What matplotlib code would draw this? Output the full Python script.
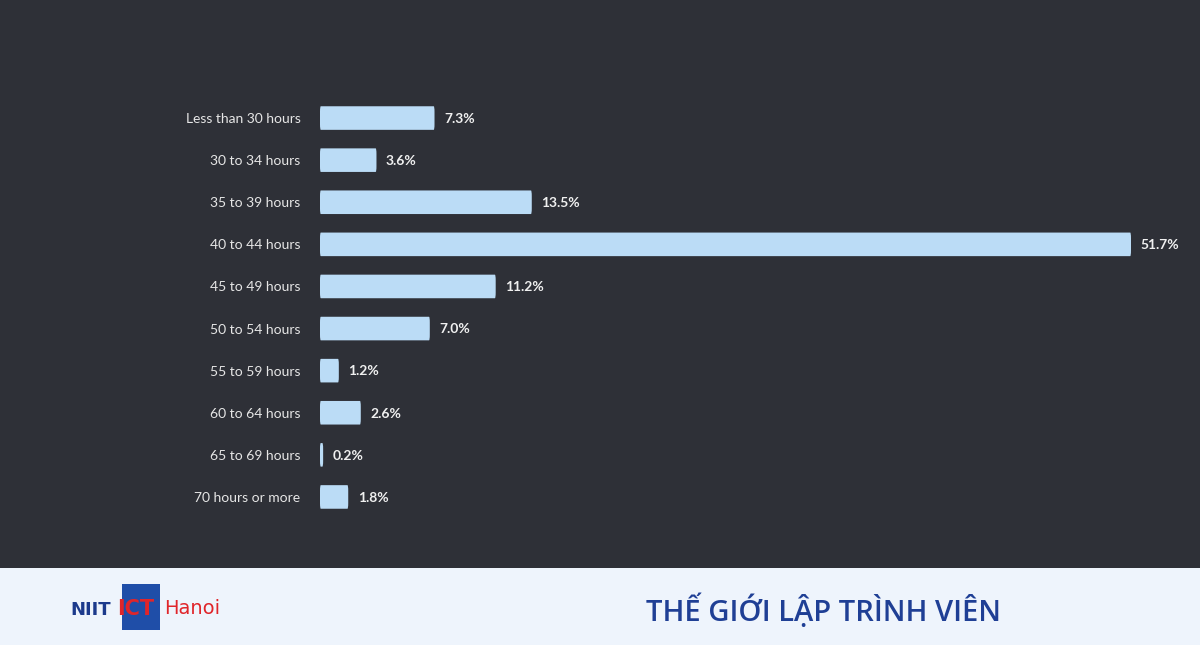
import matplotlib
matplotlib.use("Agg")
import matplotlib.pyplot as plt
from matplotlib.patches import Rectangle, FancyBboxPatch

categories = ["Less than 30 hours", "30 to 34 hours", "35 to 39 hours", "40 to 44 hours",
              "45 to 49 hours", "50 to 54 hours", "55 to 59 hours", "60 to 64 hours",
              "65 to 69 hours", "70 hours or more"]
values = [7.3, 3.6, 13.5, 51.7, 11.2, 7.0, 1.2, 2.6, 0.2, 1.8]

W, H = 1200, 645
fig = plt.figure(figsize=(W / 100, H / 100), dpi=100)
fig.patch.set_facecolor("#2e3037")

# footer band
fig.patches.append(Rectangle((0, 0), 1, 77 / H, transform=fig.transFigure,
                             facecolor="#eef4fc", edgecolor="none", zorder=0))

# chart axes: x 320px -> 1200px, y 97px -> 518px
ax = fig.add_axes([320 / W, 1 - 518 / H, 880 / W, 421 / H])
ax.set_facecolor("none")
xmax = 880 / (811 / 51.7)
ax.set_xlim(0, xmax)
ax.set_ylim(len(values) - 0.5, -0.5)
for s in ax.spines.values():
    s.set_visible(False)
ax.set_xticks([])
ax.set_yticks(range(len(categories)))
ax.set_yticklabels(categories, color="#e6e6e6", fontsize=10, family="Lato")
ax.tick_params(axis="y", length=0, pad=14)

for i, v in enumerate(values):
    ax.add_patch(FancyBboxPatch((0, i - 0.28), max(v, 0.15), 0.56,
                                boxstyle="round,pad=0,rounding_size=0.05",
                                facecolor="#bbdcf6", edgecolor="none",
                                mutation_aspect=1 / (811 / 51.7) * 42.1))
    ax.text(v + 0.6, i + 0.02, f"{v:.1f}%", va="center", ha="left", color="#f0f0f0",
            fontsize=10, fontweight="bold", family="Lato")

# footer logo
fig.text(70 / W, 1 - 610 / H, "NIIT", color="#1c3a8c", fontsize=13, fontweight="bold",
         family="DejaVu Sans Condensed", va="center")
fig.patches.append(Rectangle((122 / W, 1 - 630 / H), 38 / W, 46 / H, transform=fig.transFigure,
                             facecolor="#1f4ea8", edgecolor="none", zorder=1))
fig.text(117 / W, 1 - 609 / H, "ICT", color="#e0252a", fontsize=15, fontweight="bold",
         family="DejaVu Sans Condensed", va="center", zorder=2)
fig.text(164 / W, 1 - 609 / H, "Hanoi", color="#e0252a", fontsize=14,
         family="DejaVu Sans Condensed", va="center")

# footer title
title = "THẾ GIỚI LẬP TRÌNH VIÊN"
fig.text(824 / W, 1 - 611 / H, title, color="#1f3f95", fontsize=21, fontweight="semibold",
         family="Open Sans", va="center", ha="center")

fig.savefig("out.png", dpi=100, facecolor=fig.get_facecolor())
